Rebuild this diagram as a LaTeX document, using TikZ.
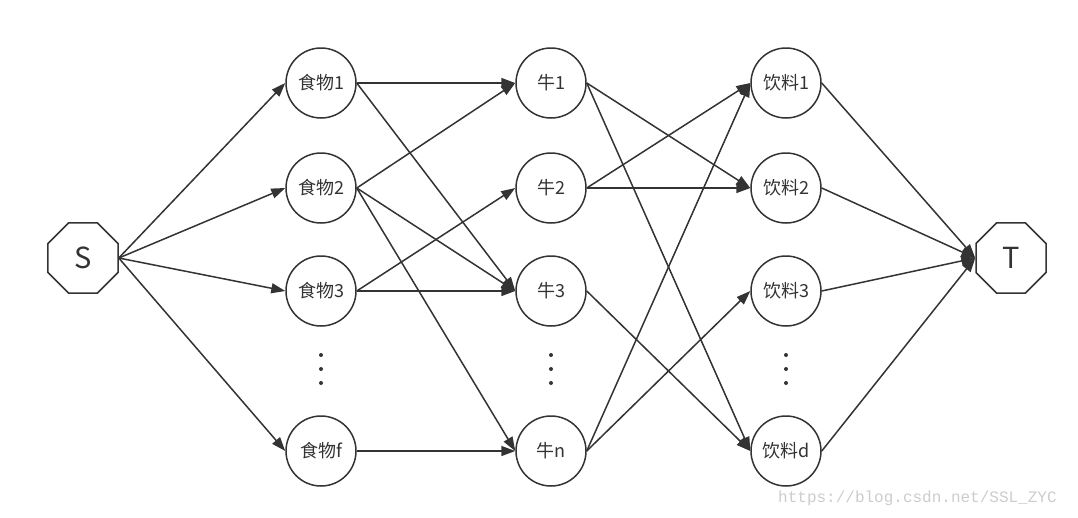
\documentclass[tikz,border=0pt]{standalone}
\usepackage{fontspec}
\setmainfont{Noto Sans CJK SC}
\newfontfamily\wmfont{Liberation Mono}
\usetikzlibrary{shapes.geometric,arrows.meta}
\definecolor{ink}{HTML}{333333}
\tikzset{
  circ/.style={circle,draw=ink,line width=1.5pt,minimum size=70pt,inner sep=0pt,text=ink,font=\fontsize{18}{20}\selectfont},
  octa/.style={regular polygon,regular polygon sides=8,draw=ink,line width=1.5pt,minimum size=75.8pt,inner sep=0pt,text=ink,font=\fontsize{29}{31}\selectfont},
  edge/.style={draw=ink,line width=1.5pt,-{Triangle[length=14pt,width=10pt]}},
  dot/.style={circle,fill=ink,minimum size=4pt,inner sep=0pt}
}
\begin{document}
\begin{tikzpicture}[x=1pt,y=-1pt]
\useasboundingbox (0,0) rectangle (1078,517);
\node[octa] (S) at (83,258) {S};
\node[octa] (T) at (1011,258) {T};
\node[circ] (f1) at (321,83) {食物1};
\node[circ] (f2) at (321,188) {食物2};
\node[circ] (f3) at (321,291) {食物3};
\node[circ] (ff) at (321,451) {食物f};
\node[circ] (c1) at (551,83) {牛1};
\node[circ] (c2) at (551,188) {牛2};
\node[circ] (c3) at (551,291) {牛3};
\node[circ] (cn) at (551,451) {牛n};
\node[circ] (d1) at (786,83) {饮料1};
\node[circ] (d2) at (786,188) {饮料2};
\node[circ] (d3) at (786,291) {饮料3};
\node[circ] (dd) at (786,451) {饮料d};
\foreach \x/\n in {321/dotf,551/dotc,786/dotd}{
  \node[dot] (\n-1) at (\x,355) {};
  \node[dot] (\n-2) at (\x,369) {};
  \node[dot] (\n-3) at (\x,383) {};
}
\foreach \t in {f1,f2,f3,ff}{ \draw[edge] (S.east) -- (\t.west); }
\foreach \s/\t in {f1/c1,f1/c3,f2/c1,f2/c3,f2/cn,f3/c2,f3/c3,ff/cn,
                   c1/d2,c1/dd,c2/d1,c2/d2,c3/dd,cn/d1,cn/d3}{
  \draw[edge] (\s.east) -- (\t.west);
}
\foreach \s in {d1,d2,d3,dd}{ \draw[edge] (\s.east) -- (T.west); }
\node[anchor=base west,inner sep=0pt,text=black!20,font=\wmfont\fontsize{16}{18}\selectfont] (wm) at (778,502) {https://blog.csdn.net/SSL\_ZYC};
\end{tikzpicture}
\end{document}
